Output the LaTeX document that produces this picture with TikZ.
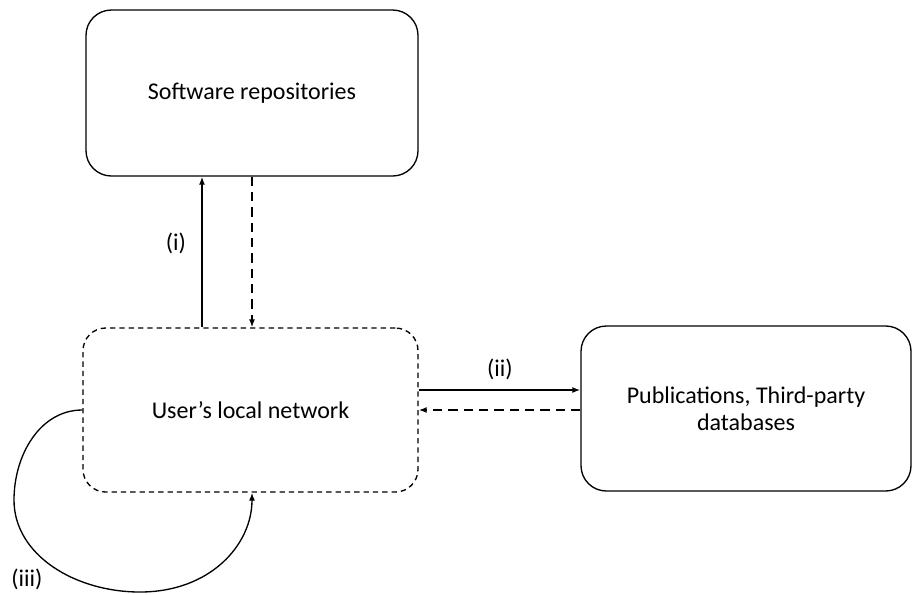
\documentclass[tikz,border=0pt]{standalone}
\usepackage{fontspec}
\setmainfont{Carlito}
\usetikzlibrary{arrows.meta}
\begin{document}
\begin{tikzpicture}[x=0.75pt,y=-0.75pt,
  box/.style={draw,line width=1pt,rounded corners=19pt,font=\fontsize{18}{20.5}\selectfont,align=center,inner sep=0pt},
  dbox/.style={box,dash pattern=on 4pt off 3pt,rounded corners=17pt},
  arr/.style={line width=1.4pt,-{Latex[length=6pt,width=4.5pt]}},
  darr/.style={arr,dash pattern=on 7pt off 4.5pt},
  lbl/.style={font=\fontsize{18}{20.5}\selectfont}]
\useasboundingbox (0,0) rectangle (912,594);
\node[box,minimum width=332*0.75pt,minimum height=166*0.75pt] (repo) at (252,93) {Software repositories};
\node[dbox,minimum width=335*0.75pt,minimum height=164*0.75pt] (user) at (250.5,410) {User’s local network};
\node[box,minimum width=330*0.75pt,minimum height=165*0.75pt] (pub) at (746,408.5) {Publications, Third-party\\databases};
% (i)
\draw[arr] (user.north -| 202,0) -- (repo.south -| 202,0);
\draw[darr] (repo.south -| 252,0) -- (user.north -| 252,0);
\node[lbl] (li) at (176,243) {(i)};
% (ii)
\draw[arr] (user.east |- 0,390) -- (pub.west |- 0,390);
\draw[darr] (pub.west |- 0,410) -- (user.east |- 0,410);
\node[lbl] (lii) at (500,369) {(ii)};
% (iii)
\coordinate (ls) at (user.west |- 0,410);
\coordinate (le) at (user.south -| 252,0);
\draw[line width=1pt,-{Latex[length=6pt,width=4.5pt]}] (ls) .. controls (40,410) and (14,455) .. (14,500)
  .. controls (14,555) and (75,592) .. (140,592)
  .. controls (210,592) and (252,545) .. (le);
\node[lbl] (liii) at (27,579) {(iii)};
\end{tikzpicture}
\end{document}
